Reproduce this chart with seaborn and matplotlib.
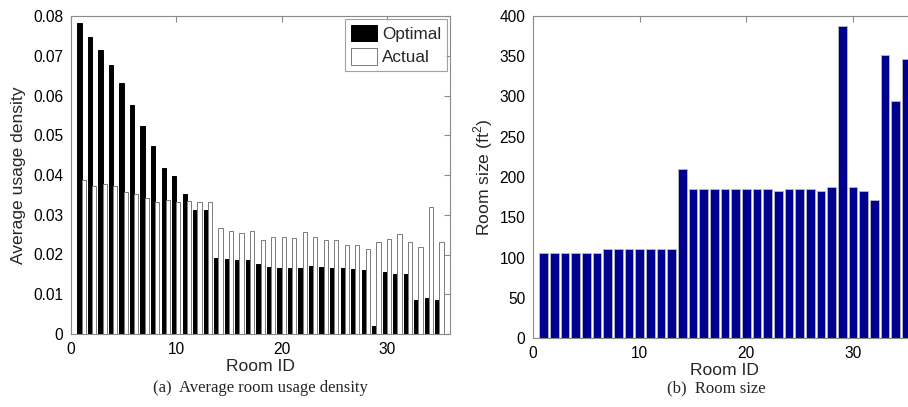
import numpy as np
import pandas as pd
import matplotlib
matplotlib.use("Agg")
import matplotlib.pyplot as plt
import seaborn as sns
from matplotlib.patches import Patch

rooms = list(range(1, 36))
optimal = [0.0782, 0.0748, 0.0714, 0.0677, 0.0631, 0.0576, 0.0524, 0.0473, 0.0418, 0.0397,
           0.0352, 0.0312, 0.0311, 0.0191, 0.0189, 0.0187, 0.0185, 0.0176, 0.0169, 0.0165,
           0.0166, 0.0167, 0.0172, 0.0169, 0.0167, 0.0165, 0.0164, 0.0162, 0.0019, 0.0157,
           0.0152, 0.0151, 0.0085, 0.0090, 0.0085]
actual = [0.0387, 0.0372, 0.0377, 0.0372, 0.0357, 0.0351, 0.0341, 0.0331, 0.0338, 0.0332,
          0.0335, 0.0331, 0.0333, 0.0267, 0.0258, 0.0255, 0.0260, 0.0236, 0.0244, 0.0244,
          0.0242, 0.0256, 0.0244, 0.0236, 0.0236, 0.0225, 0.0225, 0.0214, 0.0231, 0.0240,
          0.0252, 0.0231, 0.0220, 0.0319, 0.0231]
room_size = [105, 105, 105, 105, 105, 105, 110, 110, 110, 110,
             110, 110, 110, 210, 185, 185, 185, 185, 185, 185,
             185, 185, 183, 185, 185, 185, 183, 187, 387, 188,
             183, 171, 351, 294, 346]
series_names = ["Optimal", "Actual"]
density_yticks = [0, 0.01, 0.02, 0.03, 0.04, 0.05, 0.06, 0.07, 0.08]
size_yticks = [0, 50, 100, 150, 200, 250, 300, 350, 400]
xticks = [0, 10, 20, 30]

sns.set_style("white")
plt.rcParams["font.family"] = ["Liberation Sans", "DejaVu Sans"]
plt.rcParams["mathtext.fontset"] = "custom"
plt.rcParams["mathtext.rm"] = "Liberation Sans"

df_density = pd.DataFrame({
    "Room": rooms * 2,
    "Series": [series_names[0]] * len(rooms) + [series_names[1]] * len(rooms),
    "Value": optimal + actual,
})
df_size = pd.DataFrame({"Room": rooms, "Size": room_size})

fig = plt.figure(figsize=(9.08, 4.07), dpi=100)
W, H = 908, 407
ax1 = fig.add_axes([71 / W, (H - 334) / H, 379 / W, 318 / H])
ax2 = fig.add_axes([533 / W, (H - 338) / H, 384 / W, 322 / H])

spine_col = "#8a8a8a"
tick_fs = 11.2
label_fs = 12.6

# Left chart
sns.barplot(data=df_density, x="Room", y="Value", hue="Series", native_scale=True,
            palette={"Optimal": "black", "Actual": "white"}, errorbar=None,
            width=0.8, ax=ax1, legend=False, saturation=1)
for cont, ec in zip(ax1.containers, ["black", "#7a7a7a"]):
    for p in cont:
        p.set_edgecolor(ec)
        p.set_linewidth(0.7)
ax1.set_xlim(0, 36)
ax1.set_ylim(0, 0.08)
ax1.set_xticks(xticks)
ax1.set_yticks(density_yticks)
ax1.set_yticklabels(["0"] + [f"{v:.2f}" for v in density_yticks[1:]])
ax1.set_xlabel("Room ID", fontsize=label_fs, labelpad=1)
ax1.set_ylabel("Average usage density", fontsize=label_fs, labelpad=5)
handles = [Patch(facecolor="black", edgecolor="black", lw=0.7),
           Patch(facecolor="white", edgecolor="#7a7a7a", lw=0.7)]
leg = ax1.legend(handles, series_names, loc="upper right", fontsize=12.3,
                 frameon=True, fancybox=False, handlelength=1.55, handleheight=1.1,
                 handletextpad=0.3, borderpad=0.3, labelspacing=0.4,
                 borderaxespad=0.2)
leg.get_frame().set_edgecolor(spine_col)
leg.get_frame().set_linewidth(0.8)

# Right chart
sns.barplot(data=df_size, x="Room", y="Size", native_scale=True, color="#00008F",
            errorbar=None, width=0.8, ax=ax2, saturation=1,
            edgecolor="#bbbbbb", linewidth=0.6)
ax2.set_xlim(0, 36)
ax2.set_ylim(0, 400)
ax2.set_xticks(xticks)
ax2.set_yticks(size_yticks)
ax2.set_xlabel("Room ID", fontsize=label_fs, labelpad=1)
ax2.set_ylabel("Room size (ft$^2$)", fontsize=label_fs, labelpad=3)

for ax in (ax1, ax2):
    for s in ax.spines.values():
        s.set_color(spine_col)
        s.set_linewidth(0.8)
    ax.tick_params(direction="in", length=4, width=0.8, color=spine_col,
                   labelsize=tick_fs, top=True, right=True, labelcolor="black")
    ax.tick_params(axis="x", pad=6)
    ax.tick_params(axis="y", pad=5.5)

fig.text((71 + 450) / 2 / W, 1 - 388 / H, "(a)  Average room usage density",
         ha="center", va="center", fontsize=12, family="Liberation Serif")
fig.text((533 + 908) / 2 / W - 0.005, 1 - 388 / H, "(b)  Room size",
         ha="center", va="center", fontsize=12, family="Liberation Serif")

fig.savefig("out.png", dpi=100)
